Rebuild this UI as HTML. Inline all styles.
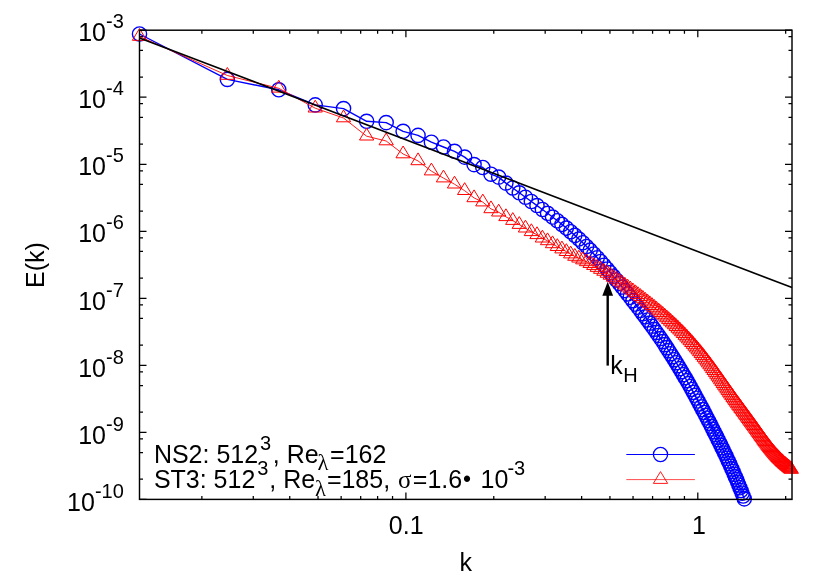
<!DOCTYPE html>
<html><head><meta charset="utf-8"><title>E(k)</title>
<style>html,body{margin:0;padding:0;background:#fff;overflow:hidden}svg{display:block;will-change:transform;opacity:0.999}</style></head>
<body>
<svg width="830" height="581" viewBox="0 0 830 581" font-family="'Liberation Sans', sans-serif" font-size="26.0px" fill="#000">
<rect width="830" height="581" fill="#fff"/>
<path d="M139.5 30.20h7.0M792.0 30.20h-7.0M139.5 36.70h3.5M792.0 36.70h-3.5M139.5 50.38h3.5M792.0 50.38h-3.5M139.5 77.05h3.5M792.0 77.05h-3.5M139.5 97.23h7.0M792.0 97.23h-7.0M139.5 103.72h3.5M792.0 103.72h-3.5M139.5 117.41h3.5M792.0 117.41h-3.5M139.5 144.08h3.5M792.0 144.08h-3.5M139.5 164.26h7.0M792.0 164.26h-7.0M139.5 170.75h3.5M792.0 170.75h-3.5M139.5 184.43h3.5M792.0 184.43h-3.5M139.5 211.11h3.5M792.0 211.11h-3.5M139.5 231.29h7.0M792.0 231.29h-7.0M139.5 237.78h3.5M792.0 237.78h-3.5M139.5 251.46h3.5M792.0 251.46h-3.5M139.5 278.14h3.5M792.0 278.14h-3.5M139.5 298.31h7.0M792.0 298.31h-7.0M139.5 304.81h3.5M792.0 304.81h-3.5M139.5 318.49h3.5M792.0 318.49h-3.5M139.5 345.17h3.5M792.0 345.17h-3.5M139.5 365.34h7.0M792.0 365.34h-7.0M139.5 371.84h3.5M792.0 371.84h-3.5M139.5 385.52h3.5M792.0 385.52h-3.5M139.5 412.19h3.5M792.0 412.19h-3.5M139.5 432.37h7.0M792.0 432.37h-7.0M139.5 438.87h3.5M792.0 438.87h-3.5M139.5 452.55h3.5M792.0 452.55h-3.5M139.5 479.22h3.5M792.0 479.22h-3.5M139.5 499.40h7.0M792.0 499.40h-7.0M201.87 499.4v-3.5M201.87 30.2v3.5M253.27 499.4v-3.5M253.27 30.2v3.5M289.74 499.4v-3.5M289.74 30.2v3.5M318.03 499.4v-3.5M318.03 30.2v3.5M341.14 499.4v-3.5M341.14 30.2v3.5M360.68 499.4v-3.5M360.68 30.2v3.5M377.61 499.4v-3.5M377.61 30.2v3.5M392.54 499.4v-3.5M392.54 30.2v3.5M405.90 499.4v-7.0M405.90 30.2v7.0M493.77 499.4v-3.5M493.77 30.2v3.5M545.17 499.4v-3.5M545.17 30.2v3.5M581.64 499.4v-3.5M581.64 30.2v3.5M609.93 499.4v-3.5M609.93 30.2v3.5M633.04 499.4v-3.5M633.04 30.2v3.5M652.58 499.4v-3.5M652.58 30.2v3.5M669.51 499.4v-3.5M669.51 30.2v3.5M684.44 499.4v-3.5M684.44 30.2v3.5M697.80 499.4v-7.0M697.80 30.2v7.0M785.67 499.4v-3.5M785.67 30.2v3.5" stroke="#000" stroke-width="1.25" fill="none"/>
<text transform="translate(123.80 41.40) scale(0.9615 1)" text-anchor="end">10<tspan dy="-13.00" font-size="20.80px">-3</tspan></text>
<text transform="translate(123.80 108.43) scale(0.9615 1)" text-anchor="end">10<tspan dy="-13.00" font-size="20.80px">-4</tspan></text>
<text transform="translate(123.80 175.46) scale(0.9615 1)" text-anchor="end">10<tspan dy="-13.00" font-size="20.80px">-5</tspan></text>
<text transform="translate(123.80 242.49) scale(0.9615 1)" text-anchor="end">10<tspan dy="-13.00" font-size="20.80px">-6</tspan></text>
<text transform="translate(123.80 309.51) scale(0.9615 1)" text-anchor="end">10<tspan dy="-13.00" font-size="20.80px">-7</tspan></text>
<text transform="translate(123.80 376.54) scale(0.9615 1)" text-anchor="end">10<tspan dy="-13.00" font-size="20.80px">-8</tspan></text>
<text transform="translate(123.80 443.57) scale(0.9615 1)" text-anchor="end">10<tspan dy="-13.00" font-size="20.80px">-9</tspan></text>
<text transform="translate(123.80 510.60) scale(0.9615 1)" text-anchor="end">10<tspan dy="-13.00" font-size="20.80px">-10</tspan></text>
<text transform="translate(406.20 533.60) scale(0.9615 1)" text-anchor="middle">0.1</text>
<text transform="translate(699.00 533.60) scale(0.9615 1)" text-anchor="middle">1</text>
<text transform="translate(465.75 571.40) scale(0.9615 1)" text-anchor="middle">k</text>
<text transform="translate(43.8 265) rotate(-90) scale(0.9615 1)" text-anchor="middle">E(k)</text>
<text transform="translate(0.00 462.60) scale(0.9615 1)"><tspan x="160.06" y="0.00" font-size="26.00px">NS2: 512</tspan><tspan x="270.40" y="-13.00" font-size="20.80px">3</tspan><tspan x="283.71" y="0.00" font-size="26.00px">, Re</tspan><tspan x="330.30" y="7.80" font-size="23.50px" font-family="'Liberation Serif', serif">&#955;</tspan><tspan x="343.30" y="0.00" font-size="26.00px">=162</tspan></text>
<text transform="translate(0.00 487.70) scale(0.9615 1)"><tspan x="160.06" y="0.00" font-size="26.00px">ST3: 512</tspan><tspan x="267.49" y="-13.00" font-size="20.80px">3</tspan><tspan x="280.07" y="0.00" font-size="26.00px">, Re</tspan><tspan x="327.60" y="7.80" font-size="23.50px" font-family="'Liberation Serif', serif">&#955;</tspan><tspan x="339.98" y="0.00" font-size="26.00px">=185,</tspan><tspan x="413.92" y="0.00" font-size="26.00px" font-family="'Liberation Serif', serif">&#963;</tspan><tspan x="429.31" y="0.00" font-size="26.00px">=1.6</tspan><tspan x="481.42" y="-0.60" font-size="23.92px">&#8226;</tspan><tspan x="499.82" y="0.00" font-size="26.00px">10</tspan><tspan x="527.70" y="-13.00" font-size="20.80px">-3</tspan></text>
<clipPath id="c"><rect x="139.5" y="18.2" width="652.5" height="493.2"/></clipPath>
<polyline points="139.50,34.00 227.37,79.40 278.77,89.80 315.24,104.90 343.53,108.60 366.64,121.30 386.18,122.60 403.11,131.30 418.04,135.40 431.40,142.20 443.48,147.00 454.51,151.30 464.66,157.10 474.05,164.60 482.80,167.50 490.98,174.20 498.67,177.10 505.91,183.10 512.77,188.00 519.27,192.80 525.46,197.26 531.35,201.50 536.99,205.56 542.38,209.49 547.56,213.31 552.53,217.06 557.32,220.76 561.93,224.42 566.37,228.08 570.67,231.72 574.83,235.37 578.85,239.04 582.75,242.72 586.54,246.43 590.21,250.17 593.78,253.93 597.26,257.70 600.64,261.47 603.93,265.22 607.14,268.95 610.27,272.66 613.33,276.32 616.31,279.95 619.22,283.53 622.07,287.06 624.86,290.54 627.59,293.97 630.25,297.35 632.87,300.68 635.43,303.98 637.94,307.24 640.40,310.46 642.82,313.66 645.19,316.84 647.51,319.99 649.80,323.12 652.04,326.23 654.24,329.33 656.41,332.41 658.54,335.48 660.64,338.53 662.70,341.58 664.73,344.62 666.72,347.64 668.69,350.67 670.62,353.68 672.53,356.69 674.41,359.70 676.26,362.70 678.08,365.70 679.88,368.69 681.66,371.68 683.40,374.67 685.13,377.64 686.83,380.61 688.51,383.57 690.17,386.52 691.80,389.45 693.42,392.38 695.01,395.29 696.59,398.19 698.14,401.07 699.68,403.94 701.20,406.79 702.70,409.63 704.18,412.45 705.65,415.26 707.09,418.05 708.53,420.82 709.94,423.57 711.34,426.31 712.73,429.03 714.10,431.73 715.46,434.42 716.80,437.09 718.12,439.75 719.44,442.40 720.74,445.05 722.03,447.69 723.30,450.33 724.56,452.97 725.81,455.61 727.05,458.25 728.27,460.89 729.49,463.54 730.69,466.19 731.88,468.85 733.06,471.52 734.22,474.20 735.38,476.89 736.53,479.58 737.67,482.29 738.79,485.02 739.91,487.75 741.02,490.50 742.12,493.27 743.20,496.05 744.28,498.85" fill="none" stroke="#0000ff" stroke-width="1.4" stroke-linejoin="round"/>
<path d="M132.40 34.00a7.1 7.1 0 1 0 14.2 0a7.1 7.1 0 1 0 -14.2 0zM220.27 79.40a7.1 7.1 0 1 0 14.2 0a7.1 7.1 0 1 0 -14.2 0zM271.67 89.80a7.1 7.1 0 1 0 14.2 0a7.1 7.1 0 1 0 -14.2 0zM308.14 104.90a7.1 7.1 0 1 0 14.2 0a7.1 7.1 0 1 0 -14.2 0zM336.43 108.60a7.1 7.1 0 1 0 14.2 0a7.1 7.1 0 1 0 -14.2 0zM359.54 121.30a7.1 7.1 0 1 0 14.2 0a7.1 7.1 0 1 0 -14.2 0zM379.08 122.60a7.1 7.1 0 1 0 14.2 0a7.1 7.1 0 1 0 -14.2 0zM396.01 131.30a7.1 7.1 0 1 0 14.2 0a7.1 7.1 0 1 0 -14.2 0zM410.94 135.40a7.1 7.1 0 1 0 14.2 0a7.1 7.1 0 1 0 -14.2 0zM424.30 142.20a7.1 7.1 0 1 0 14.2 0a7.1 7.1 0 1 0 -14.2 0zM436.38 147.00a7.1 7.1 0 1 0 14.2 0a7.1 7.1 0 1 0 -14.2 0zM447.41 151.30a7.1 7.1 0 1 0 14.2 0a7.1 7.1 0 1 0 -14.2 0zM457.56 157.10a7.1 7.1 0 1 0 14.2 0a7.1 7.1 0 1 0 -14.2 0zM466.95 164.60a7.1 7.1 0 1 0 14.2 0a7.1 7.1 0 1 0 -14.2 0zM475.70 167.50a7.1 7.1 0 1 0 14.2 0a7.1 7.1 0 1 0 -14.2 0zM483.88 174.20a7.1 7.1 0 1 0 14.2 0a7.1 7.1 0 1 0 -14.2 0zM491.57 177.10a7.1 7.1 0 1 0 14.2 0a7.1 7.1 0 1 0 -14.2 0zM498.81 183.10a7.1 7.1 0 1 0 14.2 0a7.1 7.1 0 1 0 -14.2 0zM505.67 188.00a7.1 7.1 0 1 0 14.2 0a7.1 7.1 0 1 0 -14.2 0zM512.17 192.80a7.1 7.1 0 1 0 14.2 0a7.1 7.1 0 1 0 -14.2 0zM518.36 197.26a7.1 7.1 0 1 0 14.2 0a7.1 7.1 0 1 0 -14.2 0zM524.25 201.50a7.1 7.1 0 1 0 14.2 0a7.1 7.1 0 1 0 -14.2 0zM529.89 205.56a7.1 7.1 0 1 0 14.2 0a7.1 7.1 0 1 0 -14.2 0zM535.28 209.49a7.1 7.1 0 1 0 14.2 0a7.1 7.1 0 1 0 -14.2 0zM540.46 213.31a7.1 7.1 0 1 0 14.2 0a7.1 7.1 0 1 0 -14.2 0zM545.43 217.06a7.1 7.1 0 1 0 14.2 0a7.1 7.1 0 1 0 -14.2 0zM550.22 220.76a7.1 7.1 0 1 0 14.2 0a7.1 7.1 0 1 0 -14.2 0zM554.83 224.42a7.1 7.1 0 1 0 14.2 0a7.1 7.1 0 1 0 -14.2 0zM559.27 228.08a7.1 7.1 0 1 0 14.2 0a7.1 7.1 0 1 0 -14.2 0zM563.57 231.72a7.1 7.1 0 1 0 14.2 0a7.1 7.1 0 1 0 -14.2 0zM567.73 235.37a7.1 7.1 0 1 0 14.2 0a7.1 7.1 0 1 0 -14.2 0zM571.75 239.04a7.1 7.1 0 1 0 14.2 0a7.1 7.1 0 1 0 -14.2 0zM575.65 242.72a7.1 7.1 0 1 0 14.2 0a7.1 7.1 0 1 0 -14.2 0zM579.44 246.43a7.1 7.1 0 1 0 14.2 0a7.1 7.1 0 1 0 -14.2 0zM583.11 250.17a7.1 7.1 0 1 0 14.2 0a7.1 7.1 0 1 0 -14.2 0zM586.68 253.93a7.1 7.1 0 1 0 14.2 0a7.1 7.1 0 1 0 -14.2 0zM590.16 257.70a7.1 7.1 0 1 0 14.2 0a7.1 7.1 0 1 0 -14.2 0zM593.54 261.47a7.1 7.1 0 1 0 14.2 0a7.1 7.1 0 1 0 -14.2 0zM596.83 265.22a7.1 7.1 0 1 0 14.2 0a7.1 7.1 0 1 0 -14.2 0zM600.04 268.95a7.1 7.1 0 1 0 14.2 0a7.1 7.1 0 1 0 -14.2 0zM603.17 272.66a7.1 7.1 0 1 0 14.2 0a7.1 7.1 0 1 0 -14.2 0zM606.23 276.32a7.1 7.1 0 1 0 14.2 0a7.1 7.1 0 1 0 -14.2 0zM609.21 279.95a7.1 7.1 0 1 0 14.2 0a7.1 7.1 0 1 0 -14.2 0zM612.12 283.53a7.1 7.1 0 1 0 14.2 0a7.1 7.1 0 1 0 -14.2 0zM614.97 287.06a7.1 7.1 0 1 0 14.2 0a7.1 7.1 0 1 0 -14.2 0zM617.76 290.54a7.1 7.1 0 1 0 14.2 0a7.1 7.1 0 1 0 -14.2 0zM620.49 293.97a7.1 7.1 0 1 0 14.2 0a7.1 7.1 0 1 0 -14.2 0zM623.15 297.35a7.1 7.1 0 1 0 14.2 0a7.1 7.1 0 1 0 -14.2 0zM625.77 300.68a7.1 7.1 0 1 0 14.2 0a7.1 7.1 0 1 0 -14.2 0zM628.33 303.98a7.1 7.1 0 1 0 14.2 0a7.1 7.1 0 1 0 -14.2 0zM630.84 307.24a7.1 7.1 0 1 0 14.2 0a7.1 7.1 0 1 0 -14.2 0zM633.30 310.46a7.1 7.1 0 1 0 14.2 0a7.1 7.1 0 1 0 -14.2 0zM635.72 313.66a7.1 7.1 0 1 0 14.2 0a7.1 7.1 0 1 0 -14.2 0zM638.09 316.84a7.1 7.1 0 1 0 14.2 0a7.1 7.1 0 1 0 -14.2 0zM640.41 319.99a7.1 7.1 0 1 0 14.2 0a7.1 7.1 0 1 0 -14.2 0zM642.70 323.12a7.1 7.1 0 1 0 14.2 0a7.1 7.1 0 1 0 -14.2 0zM644.94 326.23a7.1 7.1 0 1 0 14.2 0a7.1 7.1 0 1 0 -14.2 0zM647.14 329.33a7.1 7.1 0 1 0 14.2 0a7.1 7.1 0 1 0 -14.2 0zM649.31 332.41a7.1 7.1 0 1 0 14.2 0a7.1 7.1 0 1 0 -14.2 0zM651.44 335.48a7.1 7.1 0 1 0 14.2 0a7.1 7.1 0 1 0 -14.2 0zM653.54 338.53a7.1 7.1 0 1 0 14.2 0a7.1 7.1 0 1 0 -14.2 0zM655.60 341.58a7.1 7.1 0 1 0 14.2 0a7.1 7.1 0 1 0 -14.2 0zM657.63 344.62a7.1 7.1 0 1 0 14.2 0a7.1 7.1 0 1 0 -14.2 0zM659.62 347.64a7.1 7.1 0 1 0 14.2 0a7.1 7.1 0 1 0 -14.2 0zM661.59 350.67a7.1 7.1 0 1 0 14.2 0a7.1 7.1 0 1 0 -14.2 0zM663.52 353.68a7.1 7.1 0 1 0 14.2 0a7.1 7.1 0 1 0 -14.2 0zM665.43 356.69a7.1 7.1 0 1 0 14.2 0a7.1 7.1 0 1 0 -14.2 0zM667.31 359.70a7.1 7.1 0 1 0 14.2 0a7.1 7.1 0 1 0 -14.2 0zM669.16 362.70a7.1 7.1 0 1 0 14.2 0a7.1 7.1 0 1 0 -14.2 0zM670.98 365.70a7.1 7.1 0 1 0 14.2 0a7.1 7.1 0 1 0 -14.2 0zM672.78 368.69a7.1 7.1 0 1 0 14.2 0a7.1 7.1 0 1 0 -14.2 0zM674.56 371.68a7.1 7.1 0 1 0 14.2 0a7.1 7.1 0 1 0 -14.2 0zM676.30 374.67a7.1 7.1 0 1 0 14.2 0a7.1 7.1 0 1 0 -14.2 0zM678.03 377.64a7.1 7.1 0 1 0 14.2 0a7.1 7.1 0 1 0 -14.2 0zM679.73 380.61a7.1 7.1 0 1 0 14.2 0a7.1 7.1 0 1 0 -14.2 0zM681.41 383.57a7.1 7.1 0 1 0 14.2 0a7.1 7.1 0 1 0 -14.2 0zM683.07 386.52a7.1 7.1 0 1 0 14.2 0a7.1 7.1 0 1 0 -14.2 0zM684.70 389.45a7.1 7.1 0 1 0 14.2 0a7.1 7.1 0 1 0 -14.2 0zM686.32 392.38a7.1 7.1 0 1 0 14.2 0a7.1 7.1 0 1 0 -14.2 0zM687.91 395.29a7.1 7.1 0 1 0 14.2 0a7.1 7.1 0 1 0 -14.2 0zM689.49 398.19a7.1 7.1 0 1 0 14.2 0a7.1 7.1 0 1 0 -14.2 0zM691.04 401.07a7.1 7.1 0 1 0 14.2 0a7.1 7.1 0 1 0 -14.2 0zM692.58 403.94a7.1 7.1 0 1 0 14.2 0a7.1 7.1 0 1 0 -14.2 0zM694.10 406.79a7.1 7.1 0 1 0 14.2 0a7.1 7.1 0 1 0 -14.2 0zM695.60 409.63a7.1 7.1 0 1 0 14.2 0a7.1 7.1 0 1 0 -14.2 0zM697.08 412.45a7.1 7.1 0 1 0 14.2 0a7.1 7.1 0 1 0 -14.2 0zM698.55 415.26a7.1 7.1 0 1 0 14.2 0a7.1 7.1 0 1 0 -14.2 0zM699.99 418.05a7.1 7.1 0 1 0 14.2 0a7.1 7.1 0 1 0 -14.2 0zM701.43 420.82a7.1 7.1 0 1 0 14.2 0a7.1 7.1 0 1 0 -14.2 0zM702.84 423.57a7.1 7.1 0 1 0 14.2 0a7.1 7.1 0 1 0 -14.2 0zM704.24 426.31a7.1 7.1 0 1 0 14.2 0a7.1 7.1 0 1 0 -14.2 0zM705.63 429.03a7.1 7.1 0 1 0 14.2 0a7.1 7.1 0 1 0 -14.2 0zM707.00 431.73a7.1 7.1 0 1 0 14.2 0a7.1 7.1 0 1 0 -14.2 0zM708.36 434.42a7.1 7.1 0 1 0 14.2 0a7.1 7.1 0 1 0 -14.2 0zM709.70 437.09a7.1 7.1 0 1 0 14.2 0a7.1 7.1 0 1 0 -14.2 0zM711.02 439.75a7.1 7.1 0 1 0 14.2 0a7.1 7.1 0 1 0 -14.2 0zM712.34 442.40a7.1 7.1 0 1 0 14.2 0a7.1 7.1 0 1 0 -14.2 0zM713.64 445.05a7.1 7.1 0 1 0 14.2 0a7.1 7.1 0 1 0 -14.2 0zM714.93 447.69a7.1 7.1 0 1 0 14.2 0a7.1 7.1 0 1 0 -14.2 0zM716.20 450.33a7.1 7.1 0 1 0 14.2 0a7.1 7.1 0 1 0 -14.2 0zM717.46 452.97a7.1 7.1 0 1 0 14.2 0a7.1 7.1 0 1 0 -14.2 0zM718.71 455.61a7.1 7.1 0 1 0 14.2 0a7.1 7.1 0 1 0 -14.2 0zM719.95 458.25a7.1 7.1 0 1 0 14.2 0a7.1 7.1 0 1 0 -14.2 0zM721.17 460.89a7.1 7.1 0 1 0 14.2 0a7.1 7.1 0 1 0 -14.2 0zM722.39 463.54a7.1 7.1 0 1 0 14.2 0a7.1 7.1 0 1 0 -14.2 0zM723.59 466.19a7.1 7.1 0 1 0 14.2 0a7.1 7.1 0 1 0 -14.2 0zM724.78 468.85a7.1 7.1 0 1 0 14.2 0a7.1 7.1 0 1 0 -14.2 0zM725.96 471.52a7.1 7.1 0 1 0 14.2 0a7.1 7.1 0 1 0 -14.2 0zM727.12 474.20a7.1 7.1 0 1 0 14.2 0a7.1 7.1 0 1 0 -14.2 0zM728.28 476.89a7.1 7.1 0 1 0 14.2 0a7.1 7.1 0 1 0 -14.2 0zM729.43 479.58a7.1 7.1 0 1 0 14.2 0a7.1 7.1 0 1 0 -14.2 0zM730.57 482.29a7.1 7.1 0 1 0 14.2 0a7.1 7.1 0 1 0 -14.2 0zM731.69 485.02a7.1 7.1 0 1 0 14.2 0a7.1 7.1 0 1 0 -14.2 0zM732.81 487.75a7.1 7.1 0 1 0 14.2 0a7.1 7.1 0 1 0 -14.2 0zM733.92 490.50a7.1 7.1 0 1 0 14.2 0a7.1 7.1 0 1 0 -14.2 0zM735.02 493.27a7.1 7.1 0 1 0 14.2 0a7.1 7.1 0 1 0 -14.2 0zM736.10 496.05a7.1 7.1 0 1 0 14.2 0a7.1 7.1 0 1 0 -14.2 0zM737.18 498.85a7.1 7.1 0 1 0 14.2 0a7.1 7.1 0 1 0 -14.2 0z" fill="none" stroke="#0000ff" stroke-width="1.4"/>
<path d="M626.3 454.5H694.9" stroke="#0000ff" stroke-width="1.1"/>
<circle cx="660.5" cy="454.5" r="7.1" fill="none" stroke="#0000ff" stroke-width="1.3"/>
<polyline points="139.50,36.50 227.37,75.50 278.77,88.30 315.24,108.20 343.53,118.00 366.64,136.20 386.18,141.00 403.11,154.00 418.04,160.90 431.40,171.10 443.48,178.10 454.51,184.20 464.66,190.70 474.05,197.90 482.80,202.10 490.98,208.90 498.67,212.20 505.91,216.80 512.77,220.60 519.27,224.60 525.46,228.20 531.35,231.80 536.99,234.80 542.38,238.20 547.56,240.90 552.53,243.90 557.32,246.70 561.93,249.10 566.37,251.70 570.67,254.10 574.83,256.50 578.85,258.25 582.75,260.03 586.54,261.86 590.21,263.73 593.78,265.64 597.26,267.56 600.64,269.51 603.93,271.46 607.14,273.43 610.27,275.40 613.33,277.37 616.31,279.34 619.22,281.30 622.07,283.26 624.86,285.21 627.59,287.14 630.25,289.07 632.87,290.98 635.43,292.88 637.94,294.76 640.40,296.63 642.82,298.47 645.19,300.31 647.51,302.12 649.80,303.91 652.04,305.69 654.24,307.46 656.41,309.22 658.54,310.98 660.64,312.72 662.70,314.46 664.73,316.21 666.72,317.94 668.69,319.68 670.62,321.43 672.53,323.17 674.41,324.92 676.26,326.67 678.08,328.42 679.88,330.18 681.66,331.95 683.40,333.73 685.13,335.51 686.83,337.30 688.51,339.10 690.17,340.90 691.80,342.72 693.42,344.54 695.01,346.37 696.59,348.21 698.14,350.06 699.68,351.91 701.20,353.77 702.70,355.63 704.18,357.50 705.65,359.38 707.09,361.26 708.53,363.14 709.94,365.03 711.34,366.92 712.73,368.81 714.10,370.70 715.46,372.58 716.80,374.46 718.12,376.33 719.44,378.19 720.74,380.03 722.03,381.87 723.30,383.69 724.56,385.49 725.81,387.28 727.05,389.04 728.27,390.79 729.49,392.51 730.69,394.22 731.88,395.90 733.06,397.55 734.22,399.19 735.38,400.79 736.53,402.38 737.67,403.95 738.79,405.49 739.91,407.02 741.02,408.53 742.12,410.03 743.20,411.51 744.28,412.98 745.35,414.43 746.41,415.87 747.47,417.31 748.51,418.73 749.54,420.14 750.57,421.54 751.59,422.94 752.60,424.33 753.60,425.71 754.59,427.09 755.58,428.46 756.56,429.83 757.53,431.19 758.50,432.55 759.45,433.90 760.40,435.25 761.34,436.58 762.28,437.90 763.21,439.20 764.13,440.48 765.05,441.75 765.95,443.00 766.86,444.22 767.75,445.42 768.64,446.59 769.53,447.74 770.40,448.87 771.27,449.96 772.14,451.03 773.00,452.07 773.85,453.08 774.70,454.07 775.54,455.02 776.38,455.95 777.21,456.86 778.04,457.74 778.86,458.59 779.67,459.42 780.48,460.23 781.29,461.02 782.09,461.78 782.88,462.53 783.67,463.25 784.46,463.96 785.24,464.64 786.01,465.31 786.78,465.96 787.55,466.59 788.31,467.21 789.07,467.81 789.82,468.40 790.57,468.97 791.31,469.52" fill="none" stroke="#ff0000" stroke-width="0.9" stroke-linejoin="round" clip-path="url(#c)"/>
<path d="M139.50 28.50l-7.15 11.8h14.3zM227.37 67.50l-7.15 11.8h14.3zM278.77 80.30l-7.15 11.8h14.3zM315.24 100.20l-7.15 11.8h14.3zM343.53 110.00l-7.15 11.8h14.3zM366.64 128.20l-7.15 11.8h14.3zM386.18 133.00l-7.15 11.8h14.3zM403.11 146.00l-7.15 11.8h14.3zM418.04 152.90l-7.15 11.8h14.3zM431.40 163.10l-7.15 11.8h14.3zM443.48 170.10l-7.15 11.8h14.3zM454.51 176.20l-7.15 11.8h14.3zM464.66 182.70l-7.15 11.8h14.3zM474.05 189.90l-7.15 11.8h14.3zM482.80 194.10l-7.15 11.8h14.3zM490.98 200.90l-7.15 11.8h14.3zM498.67 204.20l-7.15 11.8h14.3zM505.91 208.80l-7.15 11.8h14.3zM512.77 212.60l-7.15 11.8h14.3zM519.27 216.60l-7.15 11.8h14.3zM525.46 220.20l-7.15 11.8h14.3zM531.35 223.80l-7.15 11.8h14.3zM536.99 226.80l-7.15 11.8h14.3zM542.38 230.20l-7.15 11.8h14.3zM547.56 232.90l-7.15 11.8h14.3zM552.53 235.90l-7.15 11.8h14.3zM557.32 238.70l-7.15 11.8h14.3zM561.93 241.10l-7.15 11.8h14.3zM566.37 243.70l-7.15 11.8h14.3zM570.67 246.10l-7.15 11.8h14.3zM574.83 248.50l-7.15 11.8h14.3zM578.85 250.25l-7.15 11.8h14.3zM582.75 252.03l-7.15 11.8h14.3zM586.54 253.86l-7.15 11.8h14.3zM590.21 255.73l-7.15 11.8h14.3zM593.78 257.64l-7.15 11.8h14.3zM597.26 259.56l-7.15 11.8h14.3zM600.64 261.51l-7.15 11.8h14.3zM603.93 263.46l-7.15 11.8h14.3zM607.14 265.43l-7.15 11.8h14.3zM610.27 267.40l-7.15 11.8h14.3zM613.33 269.37l-7.15 11.8h14.3zM616.31 271.34l-7.15 11.8h14.3zM619.22 273.30l-7.15 11.8h14.3zM622.07 275.26l-7.15 11.8h14.3zM624.86 277.21l-7.15 11.8h14.3zM627.59 279.14l-7.15 11.8h14.3zM630.25 281.07l-7.15 11.8h14.3zM632.87 282.98l-7.15 11.8h14.3zM635.43 284.88l-7.15 11.8h14.3zM637.94 286.76l-7.15 11.8h14.3zM640.40 288.63l-7.15 11.8h14.3zM642.82 290.47l-7.15 11.8h14.3zM645.19 292.31l-7.15 11.8h14.3zM647.51 294.12l-7.15 11.8h14.3zM649.80 295.91l-7.15 11.8h14.3zM652.04 297.69l-7.15 11.8h14.3zM654.24 299.46l-7.15 11.8h14.3zM656.41 301.22l-7.15 11.8h14.3zM658.54 302.98l-7.15 11.8h14.3zM660.64 304.72l-7.15 11.8h14.3zM662.70 306.46l-7.15 11.8h14.3zM664.73 308.21l-7.15 11.8h14.3zM666.72 309.94l-7.15 11.8h14.3zM668.69 311.68l-7.15 11.8h14.3zM670.62 313.43l-7.15 11.8h14.3zM672.53 315.17l-7.15 11.8h14.3zM674.41 316.92l-7.15 11.8h14.3zM676.26 318.67l-7.15 11.8h14.3zM678.08 320.42l-7.15 11.8h14.3zM679.88 322.18l-7.15 11.8h14.3zM681.66 323.95l-7.15 11.8h14.3zM683.40 325.73l-7.15 11.8h14.3zM685.13 327.51l-7.15 11.8h14.3zM686.83 329.30l-7.15 11.8h14.3zM688.51 331.10l-7.15 11.8h14.3zM690.17 332.90l-7.15 11.8h14.3zM691.80 334.72l-7.15 11.8h14.3zM693.42 336.54l-7.15 11.8h14.3zM695.01 338.37l-7.15 11.8h14.3zM696.59 340.21l-7.15 11.8h14.3zM698.14 342.06l-7.15 11.8h14.3zM699.68 343.91l-7.15 11.8h14.3zM701.20 345.77l-7.15 11.8h14.3zM702.70 347.63l-7.15 11.8h14.3zM704.18 349.50l-7.15 11.8h14.3zM705.65 351.38l-7.15 11.8h14.3zM707.09 353.26l-7.15 11.8h14.3zM708.53 355.14l-7.15 11.8h14.3zM709.94 357.03l-7.15 11.8h14.3zM711.34 358.92l-7.15 11.8h14.3zM712.73 360.81l-7.15 11.8h14.3zM714.10 362.70l-7.15 11.8h14.3zM715.46 364.58l-7.15 11.8h14.3zM716.80 366.46l-7.15 11.8h14.3zM718.12 368.33l-7.15 11.8h14.3zM719.44 370.19l-7.15 11.8h14.3zM720.74 372.03l-7.15 11.8h14.3zM722.03 373.87l-7.15 11.8h14.3zM723.30 375.69l-7.15 11.8h14.3zM724.56 377.49l-7.15 11.8h14.3zM725.81 379.28l-7.15 11.8h14.3zM727.05 381.04l-7.15 11.8h14.3zM728.27 382.79l-7.15 11.8h14.3zM729.49 384.51l-7.15 11.8h14.3zM730.69 386.22l-7.15 11.8h14.3zM731.88 387.90l-7.15 11.8h14.3zM733.06 389.55l-7.15 11.8h14.3zM734.22 391.19l-7.15 11.8h14.3zM735.38 392.79l-7.15 11.8h14.3zM736.53 394.38l-7.15 11.8h14.3zM737.67 395.95l-7.15 11.8h14.3zM738.79 397.49l-7.15 11.8h14.3zM739.91 399.02l-7.15 11.8h14.3zM741.02 400.53l-7.15 11.8h14.3zM742.12 402.03l-7.15 11.8h14.3zM743.20 403.51l-7.15 11.8h14.3zM744.28 404.98l-7.15 11.8h14.3zM745.35 406.43l-7.15 11.8h14.3zM746.41 407.87l-7.15 11.8h14.3zM747.47 409.31l-7.15 11.8h14.3zM748.51 410.73l-7.15 11.8h14.3zM749.54 412.14l-7.15 11.8h14.3zM750.57 413.54l-7.15 11.8h14.3zM751.59 414.94l-7.15 11.8h14.3zM752.60 416.33l-7.15 11.8h14.3zM753.60 417.71l-7.15 11.8h14.3zM754.59 419.09l-7.15 11.8h14.3zM755.58 420.46l-7.15 11.8h14.3zM756.56 421.83l-7.15 11.8h14.3zM757.53 423.19l-7.15 11.8h14.3zM758.50 424.55l-7.15 11.8h14.3zM759.45 425.90l-7.15 11.8h14.3zM760.40 427.25l-7.15 11.8h14.3zM761.34 428.58l-7.15 11.8h14.3zM762.28 429.90l-7.15 11.8h14.3zM763.21 431.20l-7.15 11.8h14.3zM764.13 432.48l-7.15 11.8h14.3zM765.05 433.75l-7.15 11.8h14.3zM765.95 435.00l-7.15 11.8h14.3zM766.86 436.22l-7.15 11.8h14.3zM767.75 437.42l-7.15 11.8h14.3zM768.64 438.59l-7.15 11.8h14.3zM769.53 439.74l-7.15 11.8h14.3zM770.40 440.87l-7.15 11.8h14.3zM771.27 441.96l-7.15 11.8h14.3zM772.14 443.03l-7.15 11.8h14.3zM773.00 444.07l-7.15 11.8h14.3zM773.85 445.08l-7.15 11.8h14.3zM774.70 446.07l-7.15 11.8h14.3zM775.54 447.02l-7.15 11.8h14.3zM776.38 447.95l-7.15 11.8h14.3zM777.21 448.86l-7.15 11.8h14.3zM778.04 449.74l-7.15 11.8h14.3zM778.86 450.59l-7.15 11.8h14.3zM779.67 451.42l-7.15 11.8h14.3zM780.48 452.23l-7.15 11.8h14.3zM781.29 453.02l-7.15 11.8h14.3zM782.09 453.78l-7.15 11.8h14.3zM782.88 454.53l-7.15 11.8h14.3zM783.67 455.25l-7.15 11.8h14.3zM784.46 455.96l-7.15 11.8h14.3zM785.24 456.64l-7.15 11.8h14.3zM786.01 457.31l-7.15 11.8h14.3zM786.78 457.96l-7.15 11.8h14.3zM787.55 458.59l-7.15 11.8h14.3zM788.31 459.21l-7.15 11.8h14.3zM789.07 459.81l-7.15 11.8h14.3zM789.82 460.40l-7.15 11.8h14.3zM790.57 460.97l-7.15 11.8h14.3zM791.31 461.52l-7.15 11.8h14.3z" fill="none" stroke="#ff0000" stroke-width="1.0"/>
<path d="M626.3 479.6H694.9" stroke="#ff0000" stroke-width="0.7"/>
<path d="M660.5 471.6l-7.15 11.8h14.3z" fill="none" stroke="#ff0000" stroke-width="0.9"/>
<path d="M139.5 37.88L792.0 287.60" stroke="#000" stroke-width="1.6" fill="none"/>
<path d="M607.7 365.6V293" stroke="#000" stroke-width="2.4" fill="none"/>
<path d="M607.7 281.8L613.1 295.7H602.3z" fill="#000"/>
<text transform="translate(0.00 374.40) scale(0.9615 1)"><tspan x="634.61" y="0.00" font-size="26.00px">k</tspan><tspan x="648.13" y="7.80" font-size="20.80px">H</tspan></text>
<rect x="139.5" y="30.2" width="652.5" height="469.2" fill="none" stroke="#000" stroke-width="1.45"/>
</svg>
</body></html>
